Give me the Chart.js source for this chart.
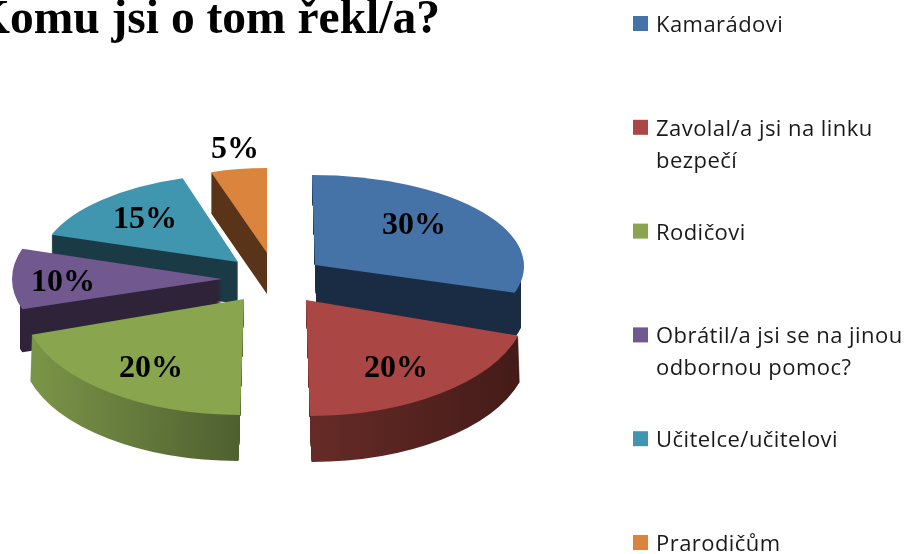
<!DOCTYPE html>
<html lang="cs">
<head>
<meta charset="utf-8">
<title>Komu jsi o tom řekl/a?</title>
<script src="https://cdn.jsdelivr.net/npm/chart.js@4"></script>
<style>
  html, body { margin: 0; padding: 0; background: #fff; overflow: hidden; }
  canvas { display: block; }
</style>
</head>
<body>
<canvas id="pie" width="906" height="554"></canvas>
<script>
const TITLE = 'Komu jsi o tom řekl/a?';
const categories = [
    ['Kamarádovi'],
    ['Zavolal/a jsi na linku', 'bezpečí'],
    ['Rodičovi'],
    ['Obrátil/a jsi se na jinou', 'odbornou pomoc?'],
    ['Učitelce/učitelovi'],
    ['Prarodičům']
];
const percents = [30, 20, 20, 10, 15, 5];

// barvy horní plochy a boční stěny (zleva doprava)
const topColors = ['#4573a7', '#aa4644', '#89a54e', '#71588f', '#4096ae', '#db843d'];
const wallFrom = ['#1a2c44', '#662b27', '#7b9548', '#2e2339', '#1a3b45', '#5a3418'];
const wallTo = ['#1a2c44', '#441b18', '#4f6030', '#2e2339', '#1a3b45', '#5a3418'];

// vzhled 3D: posun výseče od středu, poloosy elipsy, naklonění a výška stěny (px)
const apexX = [45, 36, -26, -48, -32, -3];
const apexY = [-12, 23, 22, 2, -15, -24];
const radiusX = [209, 222, 222, 210, 198, 181];
const radiusY = [90, 116, 116, 98, 88, 85];
const lean = [0.034, 0.034, -0.034, 0, -0.07, 0];
const wallLean = [0.034, 0.034, -0.034, 0, 0, 0];
const wallDepth = [43, 46, 46, 43, 42, 41];
const wallMinX = [0, 0, 0, 20, 0, 0]; // stěna nepřesahuje roh výseče
const wallMaxX = [521, 906, 906, 906, 906, 906];
const labelDX = [99, 90, -93, -159, -93, -32];
const labelDY = [-39, 69, 70, 4, -42, -103];
const drawOrder = [5, 4, 3, 0, 2, 1]; // odzadu dopředu

function placeSlice(ctx, arc, i, depth) {
    ctx.translate(arc.x + apexX[i] + wallLean[i] * depth, arc.y + apexY[i] + depth);
    ctx.transform(1, 0, lean[i], 1, 0, 0);
    ctx.scale(radiusX[i] / arc.outerRadius, radiusY[i] / arc.outerRadius);
    ctx.translate(-arc.x, -arc.y);
}

// gradient stěny přes vodorovný rozsah výseče
function wallFill(ctx, arc, i) {
    const xs = [arc.x, arc.x + arc.outerRadius * Math.cos(arc.startAngle), arc.x + arc.outerRadius * Math.cos(arc.endAngle)];
    const g = ctx.createLinearGradient(Math.min(...xs), 0, Math.max(...xs), 0);
    g.addColorStop(0, wallFrom[i]);
    g.addColorStop(1, wallTo[i]);
    return g;
}

const tiltedPie = {
    id: 'tiltedPie',
    beforeDatasetsDraw(chart) {
        const ctx = chart.ctx;
        const arcs = chart.getDatasetMeta(0).data;
        drawOrder.forEach(i => {
            const arc = arcs[i];
            const face = arc.options;
            arc.options = Object.assign({}, face, { backgroundColor: wallFill(ctx, arc, i) });
            ctx.save();
            ctx.beginPath();
            ctx.rect(wallMinX[i], 0, wallMaxX[i] - wallMinX[i], 554);
            ctx.clip();
            for (let d = wallDepth[i]; d > 0; d--) {
                ctx.save();
                placeSlice(ctx, arc, i, d);
                arc.draw(ctx);
                ctx.restore();
            }
            ctx.restore();
            arc.options = face;
            ctx.save();
            placeSlice(ctx, arc, i, 0);
            arc.draw(ctx);
            ctx.restore();
        });
        return false; // výseče už jsou nakreslené
    },
    afterDraw(chart) {
        const ctx = chart.ctx;
        const arcs = chart.getDatasetMeta(0).data;
        ctx.save();

        // popisky procent
        ctx.fillStyle = '#000';
        ctx.font = 'bold 32px "Liberation Serif"';
        ctx.textAlign = 'center';
        ctx.textBaseline = 'middle';
        percents.forEach((p, i) => {
            ctx.fillText(p + '%', arcs[i].x + apexX[i] + labelDX[i], arcs[i].y + apexY[i] + labelDY[i]);
        });

        // nadpis, vlevo přesahuje okraj
        ctx.font = 'bold 47.5px "Liberation Serif"';
        ctx.textAlign = 'right';
        ctx.textBaseline = 'alphabetic';
        ctx.fillText(TITLE, 440, 33);

        // legenda
        ctx.font = '22px "Open Sans"';
        ctx.letterSpacing = '0.45px';
        ctx.textAlign = 'left';
        categories.forEach((lines, i) => {
            const y = 16 + i * 103.8;
            ctx.fillStyle = topColors[i];
            ctx.fillRect(633, y, 15, 15);
            ctx.fillStyle = '#1a1a1a';
            lines.forEach((line, n) => ctx.fillText(line, 656, y + 16 + n * 32));
        });
        ctx.restore();
    }
};

new Chart(document.getElementById('pie'), {
    type: 'pie',
    data: {
        labels: categories.map(c => c.join(' ')),
        datasets: [{
            data: percents,
            backgroundColor: topColors,
            borderWidth: 0
        }]
    },
    options: {
        responsive: false,
        animation: false,
        layout: { padding: { right: 366 } },
        plugins: {
            legend: { display: false },
            tooltip: { enabled: false }
        }
    },
    plugins: [tiltedPie]
});
</script>
</body>
</html>
